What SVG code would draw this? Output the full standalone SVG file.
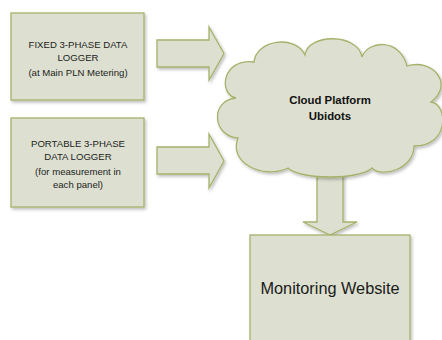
<svg xmlns="http://www.w3.org/2000/svg" width="442" height="340" viewBox="0 0 442 340">
<defs>
<filter id="sh" x="-10%" y="-10%" width="130%" height="130%">
<feDropShadow dx="1.5" dy="2" stdDeviation="1.5" flood-color="#000" flood-opacity="0.25"/>
</filter>
</defs>
<style>
.shape{fill:#dde0d0;stroke:#a4b26a;stroke-width:1.3;stroke-linejoin:miter}
.t{font-family:"Liberation Sans",Arial,sans-serif;font-size:9.6px;fill:#222;text-anchor:middle}
.tb{font-family:"Liberation Sans",Arial,sans-serif;font-size:11.4px;font-weight:bold;fill:#111;text-anchor:middle}
.tl{font-family:"Liberation Sans",Arial,sans-serif;font-size:16.3px;fill:#1a1a1a;text-anchor:middle}
</style>
<rect width="442" height="340" fill="#fff"/>
<g id="connectors">
<path class="shape" filter="url(#sh)" d="M157,40 H209 V27 L224,53.5 L209,80 V67 H157 Z"/>
<path class="shape" filter="url(#sh)" d="M157,147 H209 V134 L224,161 L209,188 V174 H157 Z"/>
<path class="shape" filter="url(#sh)" d="M317,172 H343 V222 H357 L330,235 L303,222 H317 Z"/>
</g>
<g id="fixed-logger">
<rect class="shape" filter="url(#sh)" x="11" y="13" width="133" height="87"/>
<text class="t" x="78" y="48">FIXED 3-PHASE DATA</text>
<text class="t" x="78" y="61">LOGGER</text>
<text class="t" x="78" y="76">(at Main PLN Metering)</text>
</g>
<g id="portable-logger">
<rect class="shape" filter="url(#sh)" x="11" y="118" width="133" height="89"/>
<text class="t" x="78" y="147">PORTABLE 3-PHASE</text>
<text class="t" x="78" y="160">DATA LOGGER</text>
<text class="t" x="78" y="175">(for measurement in</text>
<text class="t" x="78" y="188">each panel)</text>
</g>
<g id="cloud">
<path class="shape" filter="url(#sh)" d="M236,98 C218,94 222,58 254,62 C256,40 295,34 305,55 C308,33 358,33 362,57 C368,40 400,38 407,66 C432,58 455,84 431,102 C448,104 450,146 414,146 C414,170 380,178 372,168 C360,180 300,180 288,168 C262,180 228,162 238,138 C212,136 210,100 236,98 Z"/>
<text class="tb" x="330" y="104">Cloud Platform</text>
<text class="tb" x="330" y="120">Ubidots</text>
</g>
<g id="monitoring-website">
<rect class="shape" filter="url(#sh)" x="250" y="235" width="160" height="110"/>
<text class="tl" x="330" y="294">Monitoring Website</text>
</g>
</svg>
